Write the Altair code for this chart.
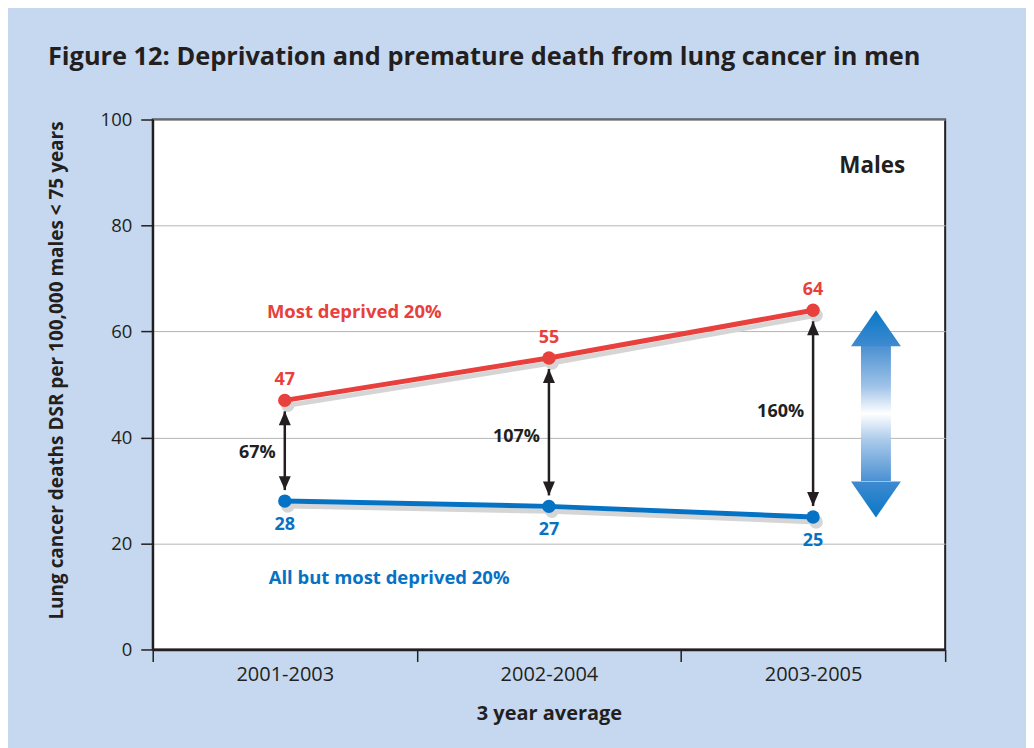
import json
import altair as alt
import pandas as pd

# ---- data ----
periods = ["2001-2003", "2002-2004", "2003-2005"]
most_deprived = [47, 55, 64]
all_but_most = [28, 27, 25]
gap_labels = ["67%", "107%", "160%"]
gap_label_y = [37.1, 40.1, 44.8]
series_names = ["Most deprived 20%", "All but most deprived 20%"]

# big gradient double arrow (data units)
big_arrow_x = [2.738]
big_tip_top = [64.0]
big_base_top = [57.25]
big_base_bot = [31.8]
big_tip_bot = [24.9]

# text annotations
ann_text = ["Most deprived 20%", "All but most deprived 20%", "Males"]
ann_x = [0.763, 0.895, 2.724]
ann_y = [63.6, 13.5, 91.3]

RED = "#e8403c"
BLUE = "#0672c4"
INK = "#231f20"
FONT = "Open Sans"

xpos = [i + 0.5 for i in range(len(periods))]

series = pd.DataFrame({
    "x": xpos * 2,
    "y": most_deprived + all_but_most,
    "group": [series_names[0]] * 3 + [series_names[1]] * 3,
})
arrows = pd.DataFrame({"x": xpos, "top": most_deprived, "bot": all_but_most,
                       "lab": gap_labels, "laby": gap_label_y})
red_lab = pd.DataFrame({"x": xpos, "y": most_deprived, "t": [str(v) for v in most_deprived]})
blue_lab = pd.DataFrame({"x": xpos, "y": all_but_most, "t": [str(v) for v in all_but_most]})
big = pd.DataFrame({"x": big_arrow_x, "tt": big_tip_top, "bt": big_base_top,
                    "bb": big_base_bot, "tb": big_tip_bot})
ann = pd.DataFrame({"x": ann_x, "y": ann_y, "t": ann_text})

label_expr = "datum.value % 1 == 0 ? '' : " + json.dumps(periods) + "[floor(datum.value)]"

x_axis = alt.Axis(
    values=[0, 0.5, 1, 1.5, 2, 2.5, 3], labelExpr=label_expr, grid=False,
    tickOpacity={"condition": {"test": "datum.value % 1 != 0", "value": 0}, "value": 1},
    tickSize=12, tickColor=INK, tickWidth=1.5, domainColor=INK, domainWidth=2.5,
    labelFontSize=20, labelColor=INK, labelFont=FONT, labelPadding=3,
    labelOverlap=False, labelFlush=False,
    titleFontSize=20, titleFont=FONT, titleFontWeight="bold", titleColor=INK,
    titlePadding=19,
)
y_axis = alt.Axis(
    values=[0, 20, 40, 60, 80, 100], grid=True, gridColor="#b5b5b5", gridWidth=1,
    tickSize=12, tickColor=INK, tickWidth=1.5, domainColor=INK, domainWidth=2,
    labelFontSize=18.5, labelColor=INK, labelFont=FONT, labelPadding=9,
    titleFontSize=19, titleFont=FONT, titleFontWeight="bold", titleColor=INK,
    titlePadding=34, titleY=251,
)

def X(field="x"):
    return alt.X(f"{field}:Q", scale=alt.Scale(domain=[0, 3]), axis=x_axis,
                 title="3 year average")

def Y(field="y"):
    return alt.Y(f"{field}:Q", scale=alt.Scale(domain=[0, 100]), axis=y_axis,
                 title="Lung cancer deaths DSR per 100,000 males < 75 years")

color = alt.Color("group:N", scale=alt.Scale(domain=series_names, range=[RED, BLUE]),
                  legend=None)

shadow_line = alt.Chart(series).mark_line(color="#d5d5d5", strokeWidth=5, xOffset=3,
                                          yOffset=5).encode(x=X(), y=Y(), detail="group:N")
shadow_pts = alt.Chart(series).mark_circle(color="#d5d5d5", size=180, opacity=1, xOffset=3,
                                           yOffset=5).encode(x=X(), y=Y())
lines = alt.Chart(series).mark_line(strokeWidth=5).encode(x=X(), y=Y(), color=color)
pts = alt.Chart(series).mark_circle(size=180, opacity=1).encode(x=X(), y=Y(), color=color)

UP = "M0,0L0.75,1.75L-0.75,1.75Z"
DOWN = "M0,0L0.75,-1.75L-0.75,-1.75Z"
rule = alt.Chart(arrows).mark_rule(color=INK, strokeWidth=2.5, yOffset=11,
                                   y2Offset=-11).encode(x=X(), y=Y("top"), y2="bot:Q")
head_up = alt.Chart(arrows).mark_point(shape=UP, size=256, filled=True, fill=INK, opacity=1,
                                       strokeWidth=0, yOffset=11).encode(x=X(), y=Y("top"))
head_dn = alt.Chart(arrows).mark_point(shape=DOWN, size=256, filled=True, fill=INK, opacity=1,
                                       strokeWidth=0, yOffset=-11).encode(x=X(), y=Y("bot"))
gap_text = alt.Chart(arrows).mark_text(font=FONT, fontSize=18, fontWeight="bold", color=INK,
                                       align="right", baseline="middle", dx=-9).encode(
    x=X(), y=Y("laby"), text="lab:N")

red_text = alt.Chart(red_lab).mark_text(font=FONT, fontSize=18, fontWeight="bold", color=RED,
                                        baseline="middle", dy=-20).encode(x=X(), y=Y(), text="t:N")
blue_text = alt.Chart(blue_lab).mark_text(font=FONT, fontSize=18, fontWeight="bold", color=BLUE,
                                          baseline="middle", dy=24).encode(x=X(), y=Y(), text="t:N")

ann_colors = alt.Color("t:N", scale=alt.Scale(domain=ann_text, range=[RED, BLUE, INK]), legend=None)
ann_text_l = alt.Chart(ann[ann.t != "Males"]).mark_text(font=FONT, fontSize=18.5, fontWeight="bold",
                                                        baseline="middle").encode(
    x=X(), y=Y(), text="t:N", color=ann_colors)
males = alt.Chart(ann[ann.t == "Males"]).mark_text(font=FONT, fontSize=22.5, fontWeight="bold",
                                                   color=INK, baseline="middle").encode(
    x=X(), y=Y(), text="t:N")

shaft_grad = alt.Gradient(gradient="linear", x1=0, y1=0, x2=0, y2=1, stops=[
    alt.GradientStop(color="#4b91d2", offset=0),
    alt.GradientStop(color="#9fc3e8", offset=0.3),
    alt.GradientStop(color="#ffffff", offset=0.5),
    alt.GradientStop(color="#a9c9ea", offset=0.7),
    alt.GradientStop(color="#4b91d2", offset=1),
])
top_grad = alt.Gradient(gradient="linear", x1=0, y1=0, x2=0, y2=1, stops=[
    alt.GradientStop(color="#0878c6", offset=0),
    alt.GradientStop(color="#3f8ad0", offset=1),
])
bot_grad = alt.Gradient(gradient="linear", x1=0, y1=0, x2=0, y2=1, stops=[
    alt.GradientStop(color="#3f8ad0", offset=0),
    alt.GradientStop(color="#0878c6", offset=1),
])
BIG_UP = "M0,0L1,1.44L-1,1.44Z"
BIG_DN = "M0,0L1,-1.44L-1,-1.44Z"
shaft = alt.Chart(big).mark_rect(fill=shaft_grad, xOffset=-15, x2Offset=15, opacity=1).encode(
    x=X(), x2="x:Q", y=Y("bt"), y2="bb:Q")
big_up = alt.Chart(big).mark_point(shape=BIG_UP, size=2500, filled=True, fill=top_grad, opacity=1,
                                   strokeWidth=0).encode(x=X(), y=Y("tt"))
big_dn = alt.Chart(big).mark_point(shape=BIG_DN, size=2500, filled=True, fill=bot_grad, opacity=1,
                                   strokeWidth=0).encode(x=X(), y=Y("tb"))

chart = alt.layer(
    shadow_line, shadow_pts, lines, pts, rule, head_up, head_dn, gap_text,
    red_text, blue_text, ann_text_l, males, shaft, big_up, big_dn,
).properties(
    width=794, height=531,
    autosize=alt.AutoSizeParams(type="none"),
    padding={"left": 145, "top": 111, "right": 81, "bottom": 98},
    title=alt.TitleParams(
        "Figure 12: Deprivation and premature death from lung cancer in men",
        anchor="start", frame="group", dx=-105, fontSize=25.4, font=FONT, fontWeight="bold",
        color=INK, offset=40,
    ),
).configure(background="#c5d8ef").configure_view(
    stroke=INK, strokeWidth=2, fill="white"
)

chart.save("out.html", embed_options={"renderer": "svg", "actions": False})
